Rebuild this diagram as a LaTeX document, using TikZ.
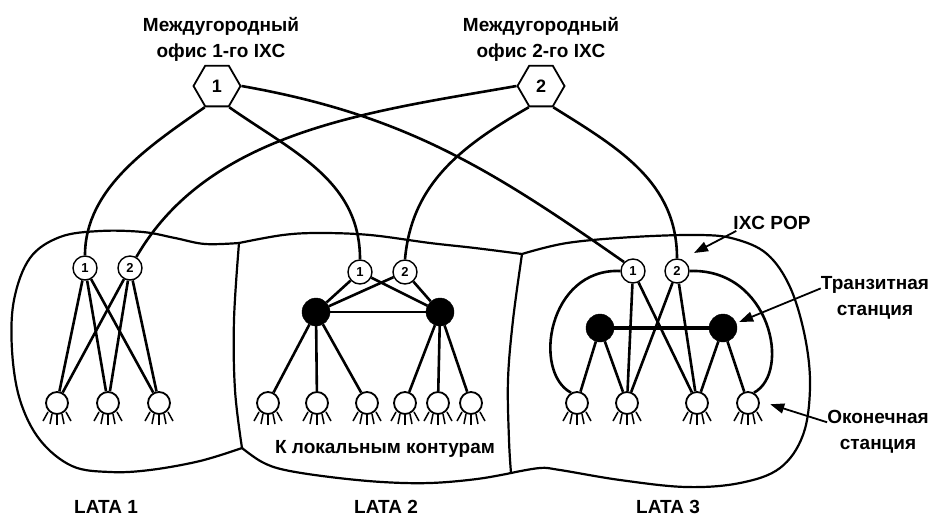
\documentclass[tikz,border=0pt]{standalone}
\usepackage{fontspec}
\setmainfont{Liberation Sans}
\usetikzlibrary{shapes.geometric,arrows.meta,calc}
\begin{document}
\begin{tikzpicture}[x=1pt,y=1pt,
  hexn/.style={regular polygon,regular polygon sides=6,draw,line width=1.8pt,minimum size=47pt,inner sep=0pt,font=\fontsize{18}{18}\selectfont\bfseries},
  pop/.style={circle,draw,line width=1.4pt,minimum size=24pt,inner sep=0pt,font=\fontsize{13}{13}\selectfont\bfseries},
  blk/.style={circle,fill=black,draw=black,minimum size=28pt,inner sep=0pt},
  es/.style={circle,draw,line width=1.8pt,minimum size=22pt,inner sep=0pt},
  link/.style={line width=2.6pt},
  bnd/.style={line width=2.2pt},
  lbl/.style={font=\fontsize{19}{26}\selectfont\bfseries,align=center,inner sep=0pt},
  callout/.style={line width=1.8pt,-{Triangle[length=14pt,width=10pt]}},
  foot/.style={line width=1.5pt}]
\useasboundingbox (0,0) rectangle (931,-517);

% LATA outlines
\draw[bnd] plot[smooth,tension=0.6] coordinates {(242,-448) (200,-461) (150,-470) (110,-472) (72,-466) (40,-440) (20,-400) (12,-350) (14,-300) (30,-258) (60,-237) (100,-231) (143,-232) (175,-238) (205,-244) (239,-243)};
\draw[bnd] plot[smooth,tension=0.6] coordinates {(239,-243) (283,-235) (320,-233) (370,-235) (430,-243) (475,-248) (522,-254)};
\draw[bnd] plot[smooth,tension=0.6] coordinates {(522,-254) (567,-243) (633,-237) (700,-235) (735,-239) (767,-254) (790,-287) (805,-337) (810,-387) (803,-435) (780,-468) (740,-483) (686,-487) (620,-480) (560,-470) (540,-468) (511,-473)};
\draw[bnd] plot[smooth,tension=0.6] coordinates {(511,-473) (477,-479) (430,-483) (382,-482) (330,-477) (285,-470) (262,-462) (242,-448)};
\draw[bnd] plot[smooth,tension=0.6] coordinates {(239,-243) (234,-320) (235,-390) (242,-448)};
\draw[bnd] plot[smooth,tension=0.6] coordinates {(522,-254) (513,-320) (508,-380) (509,-440) (511,-473)};

% IXC offices
\node[hexn] (h1) at (217,-86) {1};
\node[hexn] (h2) at (541,-86) {2};
\node[lbl] (t1) at (221,-39) {Междугородный\\офис 1-го IXC};
\node[lbl] (t2) at (541,-39) {Междугородный\\офис 2-го IXC};

% POPs
\node[pop] (p11) at (85,-268) {1};
\node[pop] (p12) at (130,-268) {2};
\node[pop] (p21) at (360,-272) {1};
\node[pop] (p22) at (405,-272) {2};
\node[pop] (p31) at (633,-271) {1};
\node[pop] (p32) at (677,-271) {2};

% tandem offices
\node[blk] (b21) at (316,-312) {};
\node[blk] (b22) at (440,-312) {};
\node[blk] (b31) at (600,-328) {};
\node[blk] (b32) at (723,-328) {};

% end offices
\foreach \n/\x in {e11/57,e12/108,e13/159,e21/268,e22/317,e23/367,e24/405,e25/438,e26/471,e31/577,e32/627,e33/697,e34/748}
  \node[es] (\n) at (\x,-403) {};
\foreach \n in {e11,e12,e13,e21,e22,e23,e24,e25,e26,e31,e32,e33,e34}{
  \draw[foot] ($(\n.center)+(-9,-9)$) -- ++(-5,-9);
  \draw[foot] ($(\n.center)+(-5,-11)$) -- ++(-2,-10);
  \draw[foot] ($(\n.center)+(0,-12)$) -- ++(0,-10);
  \draw[foot] ($(\n.center)+(5,-11)$) -- ++(2,-10);
  \draw[foot] ($(\n.center)+(9,-9)$) -- ++(5,-9);
}

% long distance links
\draw[link] (h1.corner 4) to[out=215,in=90,looseness=0.9] (p11.north);
\draw[link] (h1.corner 5) to[out=-35,in=90] (p21.north);
\draw[link] (h1.corner 6) to[out=-10,in=145] (p31.135);
\draw[link] (h2.corner 3) to[out=190,in=60,looseness=0.9] (p12.60);
\draw[link] (h2.corner 4) to[out=210,in=85] (p22.north);
\draw[link] (h2.corner 5) to[out=-32,in=90] (p32.north);

% LATA 1
\foreach \p in {p11,p12}
  \foreach \e in {e11,e12,e13}
    \draw[link] (\p) -- (\e);

% LATA 2
\foreach \p in {p21,p22}
  \foreach \b in {b21,b22}
    \draw[link] (\p) -- (\b);
\draw[link] (b21) -- (b22);
\foreach \e in {e21,e22,e23} \draw[link] (b21) -- (\e);
\foreach \e in {e24,e25,e26} \draw[link] (b22) -- (\e);

% LATA 3
\draw[line width=4pt] (b31) -- (b32);
\draw[link] (p31) -- (e32);
\draw[link] (p31) -- (e33);
\draw[link] (p32) -- (e32);
\draw[link] (p32) -- (e33);
\draw[link] (b31) -- (e31);
\draw[link] (b31) -- (e32);
\draw[link] (b32) -- (e33);
\draw[link] (b32) -- (e34);
\draw[link] (p31.west) .. controls (548,-268) and (532,-372) .. (e31.120);
\draw[link] (p32.east) .. controls (770,-268) and (792,-372) .. (e34.60);

% labels
\node[lbl] (ixc) at (772,-223) {IXC POP};
\node[lbl] (tr) at (875,-298) {Транзитная\\станция};
\node[lbl] (ok) at (878,-432) {Оконечная\\станция};
\node[lbl] (loc) at (385,-449) {К локальным контурам};
\node[lbl] (l1) at (106,-507) {LATA 1};
\node[lbl] (l2) at (386,-507) {LATA 2};
\node[lbl] (l3) at (668,-507) {LATA 3};

\coordinate (ixctip) at (694,-253);
\draw[callout] ([xshift=3pt,yshift=-1pt]ixc.south west) -- (ixctip);
\draw[callout,shorten >=3pt] ([yshift=-12pt]tr.north west) -- (b32.20);
\draw[callout,shorten >=11pt] ([yshift=-12pt]ok.north west) -- (e34.10);
\end{tikzpicture}
\end{document}
